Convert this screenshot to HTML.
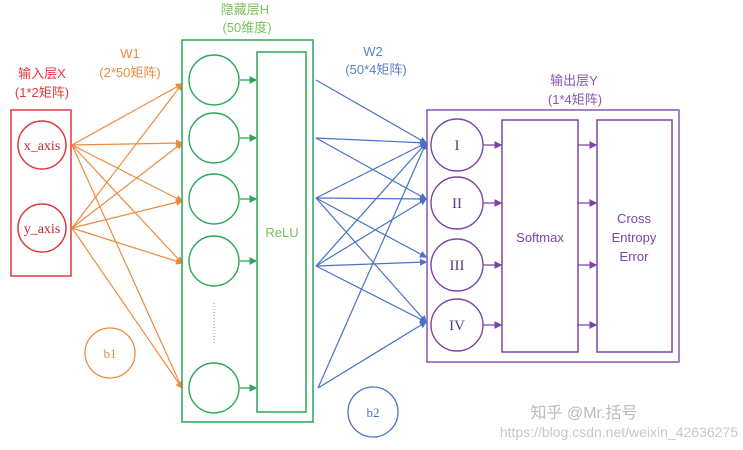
<!DOCTYPE html>
<html><head><meta charset="utf-8"><style>
body{margin:0;background:#fff;width:743px;height:450px;overflow:hidden}
svg{display:block}
text{font-family:"Liberation Sans","Noto Sans CJK SC",sans-serif}
.s{font-family:"Liberation Serif","Noto Serif CJK SC",serif}
</style></head><body>
<svg width="743" height="450" viewBox="0 0 743 450">
<defs>
<marker id="ao" markerWidth="6" markerHeight="6" refX="5" refY="3" orient="auto"><path d="M0,0L6,3L0,6z" fill="#ee8a3c"/></marker>
<marker id="ab" markerWidth="6" markerHeight="6" refX="5" refY="3" orient="auto"><path d="M0,0L6,3L0,6z" fill="#4a72c4"/></marker>
<marker id="ag" markerWidth="6" markerHeight="6" refX="5" refY="3" orient="auto"><path d="M0,0L6,3L0,6z" fill="#2aa75a"/></marker>
<marker id="ap" markerWidth="6" markerHeight="6" refX="5" refY="3" orient="auto"><path d="M0,0L6,3L0,6z" fill="#7a45a8"/></marker>
</defs>
<!-- labels -->
<g font-size="13" text-anchor="middle">
<text x="42" y="78" fill="#e0393c">输入层X</text>
<text x="42" y="97" fill="#e0393c">(1*2矩阵)</text>
<text x="130" y="58" fill="#ee8a3c">W1</text>
<text x="130" y="77" fill="#ee8a3c">(2*50矩阵)</text>
<text x="245" y="14" fill="#7cc05a">隐藏层H</text>
<text x="247" y="32" fill="#7cc05a">(50维度)</text>
<text x="373" y="56" fill="#5b80c8">W2</text>
<text x="376" y="74" fill="#5b80c8">(50*4矩阵)</text>
<text x="574" y="85" fill="#8a55b0">输出层Y</text>
<text x="575" y="104" fill="#8a55b0">(1*4矩阵)</text>
</g>
<!-- input -->
<rect x="11" y="110" width="60" height="166" fill="none" stroke="#e0393c" stroke-width="1.5"/>
<circle cx="42" cy="145" r="24" fill="none" stroke="#e0393c" stroke-width="1.5"/>
<circle cx="42" cy="228" r="24" fill="none" stroke="#e0393c" stroke-width="1.5"/>
<text class="s" x="42" y="150" font-size="14" text-anchor="middle" fill="#c0282c">x_axis</text>
<text class="s" x="42" y="233" font-size="14" text-anchor="middle" fill="#c0282c">y_axis</text>
<g stroke="#ee8a3c" stroke-width="1.2" marker-end="url(#ao)">
<line x1="72" y1="145" x2="182" y2="84"/><line x1="72" y1="145" x2="182" y2="143"/><line x1="72" y1="145" x2="182" y2="201"/><line x1="72" y1="145" x2="182" y2="263"/><line x1="72" y1="145" x2="182" y2="388"/>
<line x1="72" y1="228" x2="182" y2="84"/><line x1="72" y1="228" x2="182" y2="143"/><line x1="72" y1="228" x2="182" y2="201"/><line x1="72" y1="228" x2="182" y2="263"/><line x1="72" y1="228" x2="182" y2="388"/>
</g>
<circle cx="110" cy="353" r="25" fill="none" stroke="#ee8a3c" stroke-width="1.3"/>
<text class="s" x="110" y="358" font-size="13" text-anchor="middle" fill="#ee8a3c">b1</text>
<!-- hidden -->
<rect x="182" y="40" width="131" height="382" fill="none" stroke="#2aa75a" stroke-width="1.5"/>
<rect x="257" y="52" width="49" height="360" fill="none" stroke="#2aa75a" stroke-width="1.5"/>
<text x="282" y="237" font-size="13" text-anchor="middle" fill="#7cc05a">ReLU</text>
<g fill="none" stroke="#2aa75a" stroke-width="1.4">
<circle cx="214" cy="80" r="25"/><circle cx="214" cy="138" r="25"/><circle cx="214" cy="199" r="25"/><circle cx="214" cy="261" r="25"/><circle cx="214" cy="388" r="25"/>
</g>
<line x1="214" y1="303" x2="214" y2="345" stroke="#999" stroke-dasharray="1,2"/>
<g stroke="#2aa75a" stroke-width="1.3" marker-end="url(#ag)">
<line x1="240" y1="80" x2="256" y2="80"/><line x1="240" y1="138" x2="256" y2="138"/><line x1="240" y1="199" x2="256" y2="199"/><line x1="240" y1="261" x2="256" y2="261"/><line x1="240" y1="388" x2="256" y2="388"/>
</g>
<!-- W2 -->
<g stroke="#4a72c4" stroke-width="1.2" marker-end="url(#ab)">
<line x1="316" y1="80" x2="426" y2="143"/>
<line x1="316" y1="138" x2="426" y2="143"/><line x1="316" y1="138" x2="426" y2="199"/>
<line x1="316" y1="198" x2="426" y2="143"/><line x1="316" y1="198" x2="426" y2="199"/><line x1="316" y1="198" x2="426" y2="257"/><line x1="316" y1="198" x2="426" y2="322"/>
<line x1="316" y1="266" x2="426" y2="143"/><line x1="316" y1="266" x2="426" y2="199"/><line x1="316" y1="266" x2="426" y2="262"/><line x1="316" y1="266" x2="426" y2="322"/>
<line x1="318" y1="388" x2="426" y2="143"/><line x1="318" y1="388" x2="426" y2="322"/>
</g>
<circle cx="373" cy="412" r="25" fill="none" stroke="#4a72c4" stroke-width="1.3"/>
<text class="s" x="373" y="417" font-size="13" text-anchor="middle" fill="#4a72c4">b2</text>
<!-- output -->
<rect x="427" y="110" width="252" height="252" fill="none" stroke="#8a55b0" stroke-width="1.5"/>
<rect x="502" y="120" width="76" height="232" fill="none" stroke="#7a45a8" stroke-width="1.5"/>
<rect x="597" y="120" width="75" height="232" fill="none" stroke="#7a45a8" stroke-width="1.5"/>
<g fill="none" stroke="#7a45a8" stroke-width="1.4">
<circle cx="457" cy="145" r="26"/><circle cx="457" cy="203" r="26"/><circle cx="457" cy="265" r="26"/><circle cx="457" cy="325" r="26"/>
</g>
<g class="s" font-size="15" text-anchor="middle" fill="#5a3a80">
<text class="s" x="457" y="150">I</text><text class="s" x="457" y="208">II</text><text class="s" x="457" y="270">III</text><text class="s" x="457" y="330">IV</text>
</g>
<g stroke="#7a45a8" stroke-width="1.3" marker-end="url(#ap)">
<line x1="483" y1="145" x2="501" y2="145"/><line x1="483" y1="203" x2="501" y2="203"/><line x1="483" y1="265" x2="501" y2="265"/><line x1="483" y1="325" x2="501" y2="325"/>
<line x1="578" y1="145" x2="596" y2="145"/><line x1="578" y1="203" x2="596" y2="203"/><line x1="578" y1="265" x2="596" y2="265"/><line x1="578" y1="325" x2="596" y2="325"/>
</g>
<text x="540" y="242" font-size="13" text-anchor="middle" fill="#7a45a8">Softmax</text>
<g font-size="13" text-anchor="middle" fill="#7a45a8">
<text x="634" y="223">Cross</text><text x="634" y="242">Entropy</text><text x="634" y="261">Error</text>
</g>
<!-- watermark -->
<text x="584" y="418" font-size="16" text-anchor="middle" fill="#bbb">知乎 @Mr.括号</text>
<text x="738" y="437" font-size="14" text-anchor="end" fill="#c8c8c8">https://blog.csdn.net/weixin_42636275</text>
</svg>
</body></html>
